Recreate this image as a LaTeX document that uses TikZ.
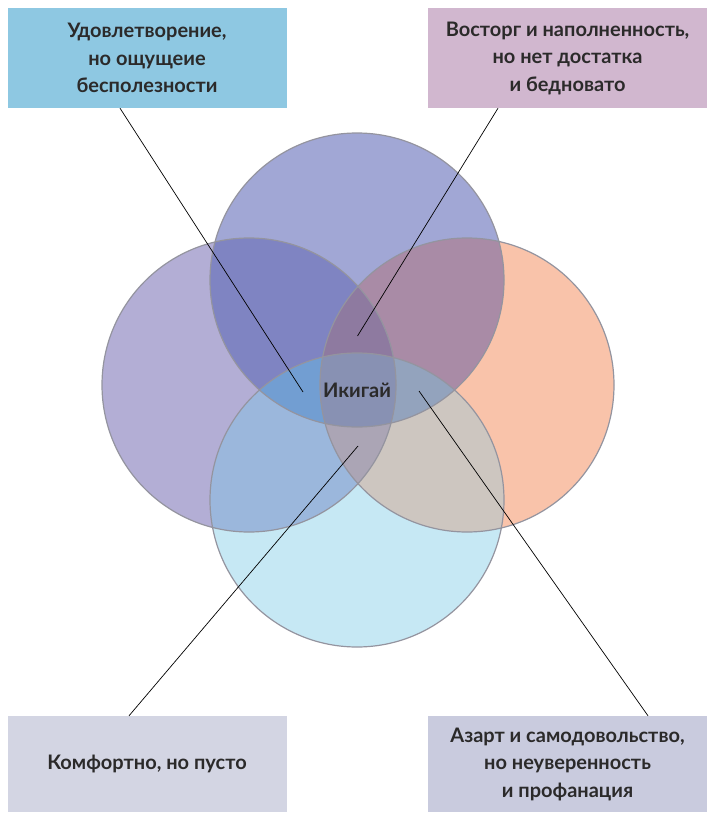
\documentclass[tikz,border=0pt]{standalone}
\usepackage{fontspec}
\setmainfont{Lato}
\definecolor{ink}{HTML}{2B2A2A}
\definecolor{rimc}{HTML}{94949F}
\definecolor{topc}{HTML}{A1A7D5}
\definecolor{leftc}{HTML}{B3AED5}
\definecolor{rightc}{HTML}{F9C3AA}
\definecolor{botc}{HTML}{C6E8F4}
\definecolor{tlc}{HTML}{7F84C2}
\definecolor{trc}{HTML}{A98BA6}
\definecolor{blc}{HTML}{9BB7DC}
\definecolor{brc}{HTML}{CDC6C0}
\definecolor{tblc}{HTML}{729ED2}
\definecolor{tbrc}{HTML}{93A3BD}
\definecolor{tlrc}{HTML}{8E7AA0}
\definecolor{blrc}{HTML}{ABA5B5}
\definecolor{allc}{HTML}{8891B3}
\definecolor{boxa}{HTML}{8EC8E2}
\definecolor{boxb}{HTML}{D1B7CF}
\definecolor{boxc}{HTML}{D3D5E3}
\definecolor{boxd}{HTML}{C9CBDE}
\def\cT{(357,280) circle [radius=147pt]}
\def\cL{(249,385) circle [radius=147pt]}
\def\cR{(467,385) circle [radius=147pt]}
\def\cB{(357,500) circle [radius=147pt]}

\begin{document}
\begin{tikzpicture}[x=1pt,y=-1pt,
        box/.style={minimum width=279pt,minimum height=100pt,inner sep=0pt,align=center,
            text=ink,font=\fontsize{20}{27.5}\selectfont\bfseries},
        rim/.style={draw=rimc,line width=1.2pt},
        link/.style={draw=black,line width=0.7pt}]
            \useasboundingbox (0,0) rectangle (707,813);
            % circles and their overlaps
            \fill[leftc] \cL; \fill[rightc] \cR; \fill[topc] \cT; \fill[botc] \cB;
            \begin{scope} \clip \cT; \fill[tlc] \cL; \fill[trc] \cR; \end{scope}
            \begin{scope} \clip \cB; \fill[blc] \cL; \fill[brc] \cR; \end{scope}
            \begin{scope} \clip \cT; \clip \cB; \fill[tblc] \cL; \fill[tbrc] \cR; \end{scope}
            \begin{scope} \clip \cL; \clip \cR; \fill[tlrc] \cT; \fill[blrc] \cB; \end{scope}
            \begin{scope} \clip \cT; \clip \cB; \clip \cL; \fill[allc] \cR; \end{scope}
            \draw[rim] \cT \cL \cR \cB;
            \node[text=ink,font=\fontsize{20}{22}\selectfont\bfseries](Ikigai)at(357, 390){Икигай};
            % boxes
            \node[box,fill=boxa](Box1)at(147, 58){Удовлетворение,\\но ощущеие\\бесполезности};
            \node[box,fill=boxb](Box2)at(567.5, 58){Восторг и наполненность,\\но нет достатка\\и бедновато};
            \node[box,fill=boxc,minimum height=96pt](Box3)at(147, 764){Комфортно, но пусто};
            \node[box,fill=boxd,minimum height=96pt](Box4)at(567.5, 764){Азарт и самодовольство,\\но неуверенность\\и профанация};
            \coordinate (e1) at (303, 392);
            \coordinate (e2) at (357.5, 336);
            \coordinate (e3) at (358, 446);
            \coordinate (e4) at (419, 391);
            \draw[link] ([xshift=-27pt]Box1.south) -- (e1);
            \draw[link] ([xshift=-69.5pt]Box2.south) -- (e2);
            \draw[link] ([xshift=-18pt]Box3.north) -- (e3);
            \draw[link] ([xshift=80.5pt]Box4.north) -- (e4);
        \end{tikzpicture}
\end{document}
